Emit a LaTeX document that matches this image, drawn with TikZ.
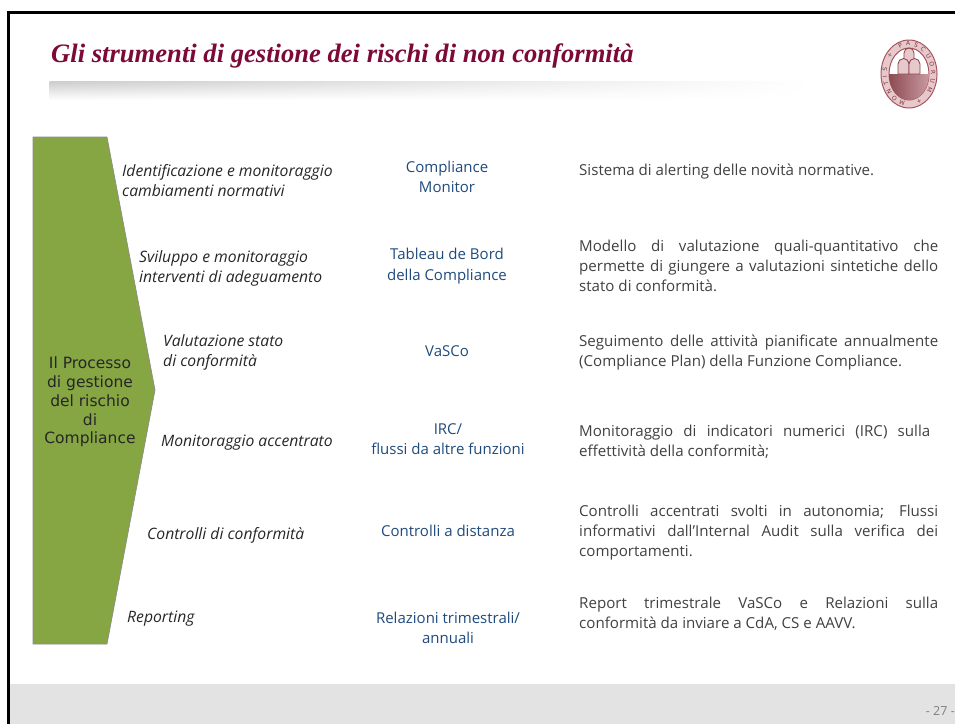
\documentclass[tikz,border=0pt]{standalone}
\usepackage{fontspec}
\setmainfont{Open Sans}
\newfontfamily\titlefont{Liberation Serif}
\newfontfamily\boxfont{DejaVu Sans}
\usetikzlibrary{decorations.text,fadings}
\definecolor{titlered}{HTML}{7D0A36}
\definecolor{boxgreen}{HTML}{86A643}
\definecolor{toolblue}{HTML}{1F4A7C}
\definecolor{sealred}{HTML}{A8545F}
\definecolor{sealpale}{HTML}{E8C9CB}
\definecolor{footgray}{HTML}{E3E3E3}
\tikzset{
	stagelab/.style={anchor=west,align=left,inner sep=0pt,font=\fontsize{15.7}{20}\selectfont\itshape,text=black!85},
	toollab/.style={align=center,inner sep=0pt,font=\fontsize{15}{20.5}\selectfont,text=toolblue},
	desclab/.style={anchor=west,inner sep=0pt,text width=359pt,align=justify,font=\fontsize{15.1}{20}\selectfont,text=black!75},
	mound/.style={fill=sealpale,draw=sealred!80!black,line width=.8pt},
}
\begin{document}
\begin{tikzpicture}[x=1pt,y=-1pt]
	\useasboundingbox (0,0) rectangle (955,724);
	% frame and footer
	\fill[footgray] (9,684) rectangle (955,724);
	\draw[line width=3pt] (8.5,724) -- (8.5,12.5) -- (955,12.5);
	\node[anchor=east,inner sep=0pt,text=black!50,font=\fontsize{12.5}{15}\selectfont] (pagenum) at (955,711) {- 27 -};
	% title
	\node[anchor=base west,inner sep=0pt,text=titlered,font=\titlefont\fontsize{26.6}{32}\selectfont\bfseries\itshape] (title) at (51,62) {Gli strumenti di gestione dei rischi di non conformità};
	\shade[top color=black!20,bottom color=white,path fading=east] (50,81) rectangle (810,100);
	% seal
	\fill[sealpale,draw=sealred,line width=1pt] (909,74) ellipse (28pt and 34pt);
	\fill[white,draw=sealred,line width=1pt] (909,74) ellipse (20pt and 26pt);
	\begin{scope}
		\clip (909,74) ellipse (20pt and 26pt);
		\shade[left color=sealred!80!black,right color=sealred!55] (885,74) rectangle (933,105);
	\end{scope}
	\draw[mound] (904,62) -- (904,53) arc (180:0:5pt) -- (914,62) -- cycle;
	\draw[mound] (898,74) -- (898,64) arc (180:0:5.5pt) -- (909,74) -- cycle;
	\draw[mound] (909,74) -- (909,64) arc (180:0:5.5pt) -- (920,74) -- cycle;
	\path[postaction={decorate},decoration={text along path,text align={fit to path},raise=-2.4pt,
		text={|\boxfont\fontsize{6}{7}\selectfont\color{sealred!70!black}|MONTIS + PASCUORUM +}}]
		(904.7,104) arc (260:-70:24.5pt and 30.5pt);
	% left box
	\draw[fill=boxgreen,draw=black!45,line width=.7pt] (33,137) -- (107,137) -- (155,390) -- (107,644) -- (33,644) -- cycle;
	\node[inner sep=0pt,align=center,text=black!85,font=\boxfont\fontsize{15.5}{18.8}\selectfont] (process) at (90,402) {Il Processo\\di gestione\\del rischio\\di\\Compliance};
	% stages
	\node[stagelab] (stageone) at (122,181) {Identificazione e monitoraggio\\cambiamenti normativi};
	\node[stagelab] (stagetwo) at (139,268) {Sviluppo e monitoraggio\\interventi di adeguamento};
	\node[stagelab] (stagethree) at (163,352) {Valutazione stato\\di conformità};
	\node[stagelab] (stagefour) at (161,443) {Monitoraggio accentrato};
	\node[stagelab] (stagefive) at (147,535) {Controlli di conformità};
	\node[stagelab] (stagesix) at (127,619) {Reporting};
	% tools
	\node[toollab] (toolone) at (447,177) {Compliance\\Monitor};
	\node[toollab] (tooltwo) at (447,266) {Tableau de Bord\\della Compliance};
	\node[toollab] (toolthree) at (447,351) {VaSCo};
	\node[toollab] (toolfour) at (448,439) {IRC/\\flussi da altre funzioni};
	\node[toollab] (toolfive) at (448,531) {Controlli a distanza};
	\node[toollab] (toolsix) at (448,628) {Relazioni trimestrali/\\annuali};
	% descriptions
	\node[desclab] (descone) at (579,172) {Sistema di alerting delle novità normative.};
	\node[desclab] (desctwo) at (579,266) {Modello di valutazione quali-quantitativo che\linebreak permette di giungere a valutazioni sintetiche dello\linebreak stato di conformità.};
	\node[desclab] (descthree) at (579,353) {Seguimento delle attività pianificate annualmente\linebreak (Compliance Plan) della Funzione Compliance.};
	\node[desclab,text width=351pt] (descfour) at (579,442) {Monitoraggio di indicatori numerici (IRC) sulla\linebreak effettività della conformità;};
	\node[desclab] (descfive) at (579,533) {Controlli accentrati svolti in autonomia; Flussi\linebreak informativi dall’Internal Audit sulla verifica dei\linebreak comportamenti.};
	\node[desclab] (descsix) at (579,614) {Report trimestrale VaSCo e Relazioni sulla\linebreak conformità da inviare a CdA, CS e AAVV.};
\end{tikzpicture}
\end{document}
